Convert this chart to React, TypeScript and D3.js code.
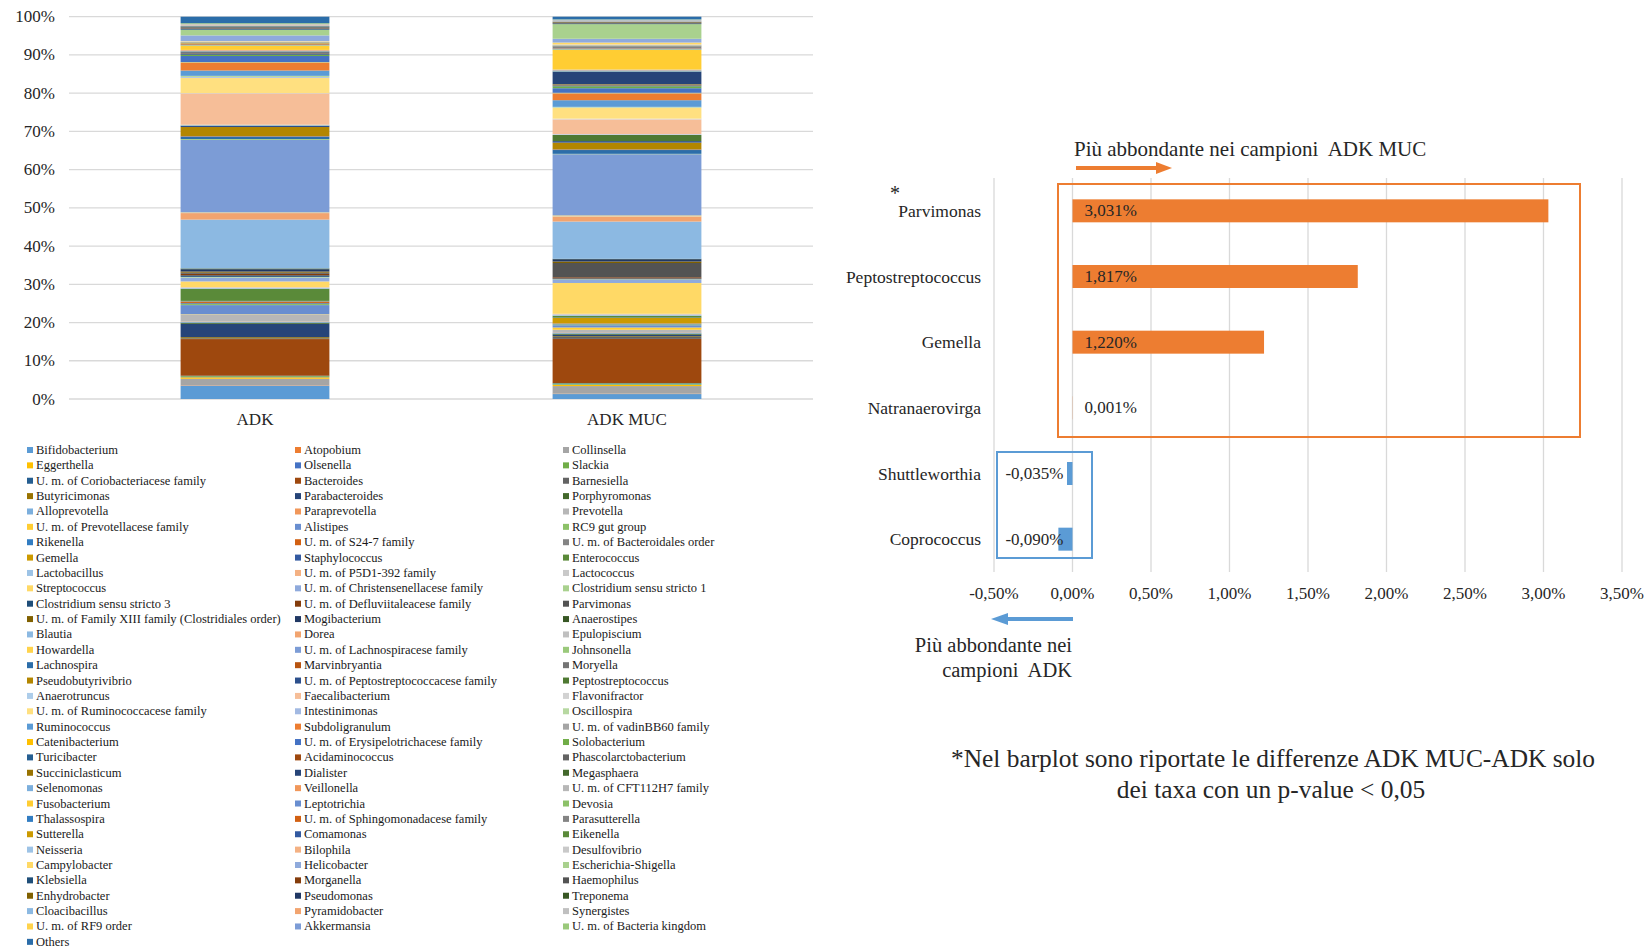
import React from "react";
import * as d3 from "d3";

// ---------- DATA ----------
const samples = ["ADK", "ADK MUC"];

const taxa = [
  "Bifidobacterium", "Atopobium", "Collinsella",
  "Eggerthella", "Olsenella", "Slackia",
  "U. m. of Coriobacteriacese family", "Bacteroides", "Barnesiella",
  "Butyricimonas", "Parabacteroides", "Porphyromonas",
  "Alloprevotella", "Paraprevotella", "Prevotella",
  "U. m. of Prevotellacese family", "Alistipes", "RC9 gut group",
  "Rikenella", "U. m. of S24-7 family", "U. m. of Bacteroidales order",
  "Gemella", "Staphylococcus", "Enterococcus",
  "Lactobacillus", "U. m. of P5D1-392 family", "Lactococcus",
  "Streptococcus", "U. m. of Christensenellacese family", "Clostridium sensu stricto 1",
  "Clostridium sensu stricto 3", "U. m. of Defluviitaleacese family", "Parvimonas",
  "U. m. of Family XIII family (Clostridiales order)", "Mogibacterium", "Anaerostipes",
  "Blautia", "Dorea", "Epulopiscium",
  "Howardella", "U. m. of Lachnospiracese family", "Johnsonella",
  "Lachnospira", "Marvinbryantia", "Moryella",
  "Pseudobutyrivibrio", "U. m. of Peptostreptococcacese family", "Peptostreptococcus",
  "Anaerotruncus", "Faecalibacterium", "Flavonifractor",
  "U. m. of Ruminococcacese family", "Intestinimonas", "Oscillospira",
  "Ruminococcus", "Subdoligranulum", "U. m. of vadinBB60 family",
  "Catenibacterium", "U. m. of Erysipelotrichacese family", "Solobacterium",
  "Turicibacter", "Acidaminococcus", "Phascolarctobacterium",
  "Succiniclasticum", "Dialister", "Megasphaera",
  "Selenomonas", "Veillonella", "U. m. of CFT112H7 family",
  "Fusobacterium", "Leptotrichia", "Devosia",
  "Thalassospira", "U. m. of Sphingomonadacese family", "Parasutterella",
  "Sutterella", "Comamonas", "Eikenella",
  "Neisseria", "Bilophila", "Desulfovibrio",
  "Campylobacter", "Helicobacter", "Escherichia-Shigella",
  "Klebsiella", "Morganella", "Haemophilus",
  "Enhydrobacter", "Pseudomonas", "Treponema",
  "Cloacibacillus", "Pyramidobacter", "Synergistes",
  "U. m. of RF9 order", "Akkermansia", "U. m. of Bacteria kingdom",
  "Others",
];

const adkValues = [
  3.5, 0.1, 1.7, 0.4, 0.1, 0.2, 0.1,
  9.6, 0.2, 0.3, 3.5, 0.3, 0.2, 0.1, 1.8, 0.1, 2.4, 0.3, 0.2, 0.3, 0.1,
  0.1, 0.1, 3.2, 0.2, 0.1, 0.1, 1.5, 1.0, 0.2, 0.4, 0.4, 0.3, 0.3, 0.6, 0.2,
  12.8, 1.7, 0.1, 0.1, 19.0, 0.2, 0.6, 0.1, 0.1, 2.35, 0.3, 0.1, 0.2, 8.2, 0.1, 4.0, 0.2, 0.3,
  1.4, 2.0, 0.1, 0.1, 1.6, 0.3, 0.2, 0.1, 0.2, 0.1, 0.2, 0.1,
  0.1, 0.2, 0.1, 1.1, 0.1, 0.1, 0.1, 0.2, 0.1, 0.2,
  0.05, 0.05, 0.05, 0.05, 0.1, 0.1, 1.5, 1.5,
  0.2, 0.1, 0.2, 0.1, 0.2, 0.1, 0.2, 0.1, 0.1, 0.1, 0.1, 0.2,
  1.7,
];

const adkMucValues = [
  1.3, 0.1, 2.0, 0.3, 0.1, 0.3, 0.1,
  11.6, 0.5, 0.2, 0.4, 0.3, 0.3, 0.1, 0.6, 0.6, 0.6, 0.2, 0.1, 0.1, 0.1,
  1.4, 0.1, 0.5, 0.3, 0.1, 0.1, 8.1, 0.9, 0.1, 0.2, 0.3, 3.75, 0.4, 0.6, 0.1,
  9.8, 1.3, 0.1, 0.2, 16.1, 0.1, 1.0, 0.1, 0.1, 1.75, 0.4, 1.6, 0.2, 3.9, 0.2, 2.8, 0.1, 0.2,
  1.75, 1.75, 0.1, 0.1, 1.2, 0.5, 0.1, 0.1, 0.3, 0.1, 3.2, 0.1,
  0.3, 0.1, 0.1, 5.2, 0.1, 0.1, 0.1, 0.1, 0.4, 0.1,
  0.1, 0.1, 0.1, 0.1, 0.1, 0.5, 1.0, 3.85,
  0.2, 0.05, 0.2, 0.1, 0.05, 0.05, 0.1, 0.05, 0.05, 0.1, 0.2, 0.1,
  0.7,
];

const yTicks = [0, 0.1, 0.2, 0.3, 0.4, 0.5, 0.6, 0.7, 0.8, 0.9, 1.0];

const diffTaxa = ["Parvimonas", "Peptostreptococcus", "Gemella", "Natranaerovirga", "Shuttleworthia", "Coprococcus"];
const diffValues = [3.031, 1.817, 1.22, 0.001, -0.035, -0.09];
const diffTicks = [-0.5, 0, 0.5, 1, 1.5, 2, 2.5, 3, 3.5];

// ---------- STYLE ----------
const FONT = "'Liberation Serif', 'Times New Roman', serif";
const TEXT = "#262626";
const GRID = "#D9D9D9";
const ACCENTS = ["#5B9BD5", "#ED7D31", "#A5A5A5", "#FFC000", "#4472C4", "#70AD47"];
const VARIATIONS: [number, number][] = [
  [1, 0], [0.6, 0], [0.8, 0.2], [0.8, 0], [0.6, 0.4], [0.5, 0], [0.7, 0.3], [0.7, 0], [0.5, 0.5],
];
function seriesColor(i: number) {
  const c = d3.hsl(ACCENTS[i % 6]);
  const [m, o] = VARIATIONS[Math.floor(i / 6) % 9];
  c.l = c.l * m + o;
  return c.formatHex();
}

const itLocale = d3.formatLocale({ decimal: ",", thousands: ".", grouping: [3], currency: ["", "€"], minus: "-" });
const fmtTick = itLocale.format(".2f");
const fmtLabel = itLocale.format(".3f");

export default function App() {
  // ----- left stacked chart -----
  const x = d3.scaleBand<string>().domain(samples).range([69, 813]).paddingInner(0.6).paddingOuter(0.3);
  const y = d3.scaleLinear().domain([0, 1]).range([399, 16.7]);
  const rows = samples.map((s, si) => {
    const r: any = { sample: s };
    taxa.forEach((t, ti) => { r[t] = si === 0 ? adkValues[ti] : adkMucValues[ti]; });
    return r;
  });
  const stacked = d3.stack<any>().keys(taxa).offset(d3.stackOffsetExpand)(rows);
  const legendCols = [27, 295, 563];
  const pctFmt = d3.format(".0%");

  // ----- right diff chart -----
  const xr = d3.scaleLinear().domain([-0.5, 3.5]).range([994, 1622]);
  const yr = d3.scaleBand<string>().domain(diffTaxa).range([178, 572]).paddingInner(0.65).paddingOuter(0.325);
  const x0 = xr(0);

  return (
    <svg width={1646} height={948} style={{ position: "absolute", left: 0, top: 0, background: "#fff" }} fontFamily={FONT}>
      <rect x={0} y={0} width={1646} height={948} fill="#fff" />
      {/* left gridlines + y labels */}
      {yTicks.map((t) => (
        <g key={"yt" + t}>
          <line x1={69} x2={813} y1={y(t)} y2={y(t)} stroke={GRID} strokeWidth={1.3} />
          <text x={55} y={y(t)} textAnchor="end" dominantBaseline="central" fontSize={17} fill={TEXT}>
            {pctFmt(t)}
          </text>
        </g>
      ))}
      {/* stacked bars */}
      {stacked.map((layer, li) => (
        <g key={"layer" + li} fill={seriesColor(li)}>
          {layer.map((d, di) => (
            <rect
              key={di}
              x={x(samples[di])!}
              width={x.bandwidth()}
              y={y(d[1])}
              height={Math.max(0, y(d[0]) - y(d[1]))}
            />
          ))}
        </g>
      ))}
      {samples.map((s) => (
        <text key={s} x={x(s)! + x.bandwidth() / 2} y={419} textAnchor="middle" dominantBaseline="central" fontSize={17} fill={TEXT}>
          {s}
        </text>
      ))}
      {/* legend */}
      {taxa.map((t, i) => {
        const col = i % 3;
        const row = Math.floor(i / 3);
        const lx = legendCols[col];
        const ly = 450 + row * 15.37;
        return (
          <g key={"lg" + i}>
            <rect x={lx} y={ly - 3} width={6} height={6} fill={seriesColor(i)} />
            <text x={lx + 9} y={ly} dominantBaseline="central" fontSize={12.5} fill="#1a1a1a">
              {t}
            </text>
          </g>
        );
      })}

      {/* right chart */}
      <text x={1074} y={149} dominantBaseline="central" fontSize={21} fill={TEXT} style={{ whiteSpace: "pre" }}>
        {"Più abbondante nei campioni  ADK MUC"}
      </text>
      <line x1={1076} x2={1158} y1={168} y2={168} stroke="#ED7D31" strokeWidth={4} />
      <polygon points="1172,168 1156,162 1156,174" fill="#ED7D31" />
      {diffTicks.map((t) => (
        <g key={"xt" + t}>
          <line x1={xr(t)} x2={xr(t)} y1={178} y2={572} stroke={GRID} strokeWidth={1.3} />
          <text x={xr(t)} y={593} textAnchor="middle" dominantBaseline="central" fontSize={17} fill={TEXT}>
            {fmtTick(t) + "%"}
          </text>
        </g>
      ))}
      {diffTaxa.map((t, i) => {
        const v = diffValues[i];
        const by = yr(t)!;
        const bh = yr.bandwidth();
        return (
          <g key={"db" + t}>
            <rect
              x={xr(Math.min(0, v))}
              width={Math.abs(xr(v) - x0)}
              y={by}
              height={bh}
              fill={v >= 0 ? "#ED7D31" : "#5B9BD5"}
            />
            <text x={981} y={by + bh / 2} textAnchor="end" dominantBaseline="central" fontSize={17.5} fill={TEXT}>
              {t}
            </text>
            <text
              x={v >= 0 ? x0 + 12 : x0 - 9}
              y={by + bh / 2}
              textAnchor={v >= 0 ? "start" : "end"}
              dominantBaseline="central"
              fontSize={17}
              fill={TEXT}
            >
              {fmtLabel(v) + "%"}
            </text>
          </g>
        );
      })}
      <text x={895} y={193} textAnchor="middle" dominantBaseline="central" fontSize={20} fill={TEXT}>*</text>
      <rect x={1058} y={184} width={522} height={253} fill="none" stroke="#ED7D31" strokeWidth={2} />
      <rect x={997} y={452} width={95} height={106} fill="none" stroke="#5B9BD5" strokeWidth={2} />
      <line x1={1073} x2={1006} y1={619} y2={619} stroke="#5B9BD5" strokeWidth={4} />
      <polygon points="991,619 1008,613 1008,625" fill="#5B9BD5" />
      <text x={1072} y={645} textAnchor="end" dominantBaseline="central" fontSize={20.5} fill={TEXT}>
        Più abbondante nei
      </text>
      <text x={1072} y={670} textAnchor="end" dominantBaseline="central" fontSize={20.5} fill={TEXT} style={{ whiteSpace: "pre" }}>
        {"campioni  ADK"}
      </text>
      <text x={1273} y={758} textAnchor="middle" dominantBaseline="central" fontSize={25.4} fill={TEXT}>
        *Nel barplot sono riportate le differenze ADK MUC-ADK solo
      </text>
      <text x={1271} y={789} textAnchor="middle" dominantBaseline="central" fontSize={25.4} fill={TEXT}>
        {"dei taxa con un p-value < 0,05"}
      </text>
    </svg>
  );
}
